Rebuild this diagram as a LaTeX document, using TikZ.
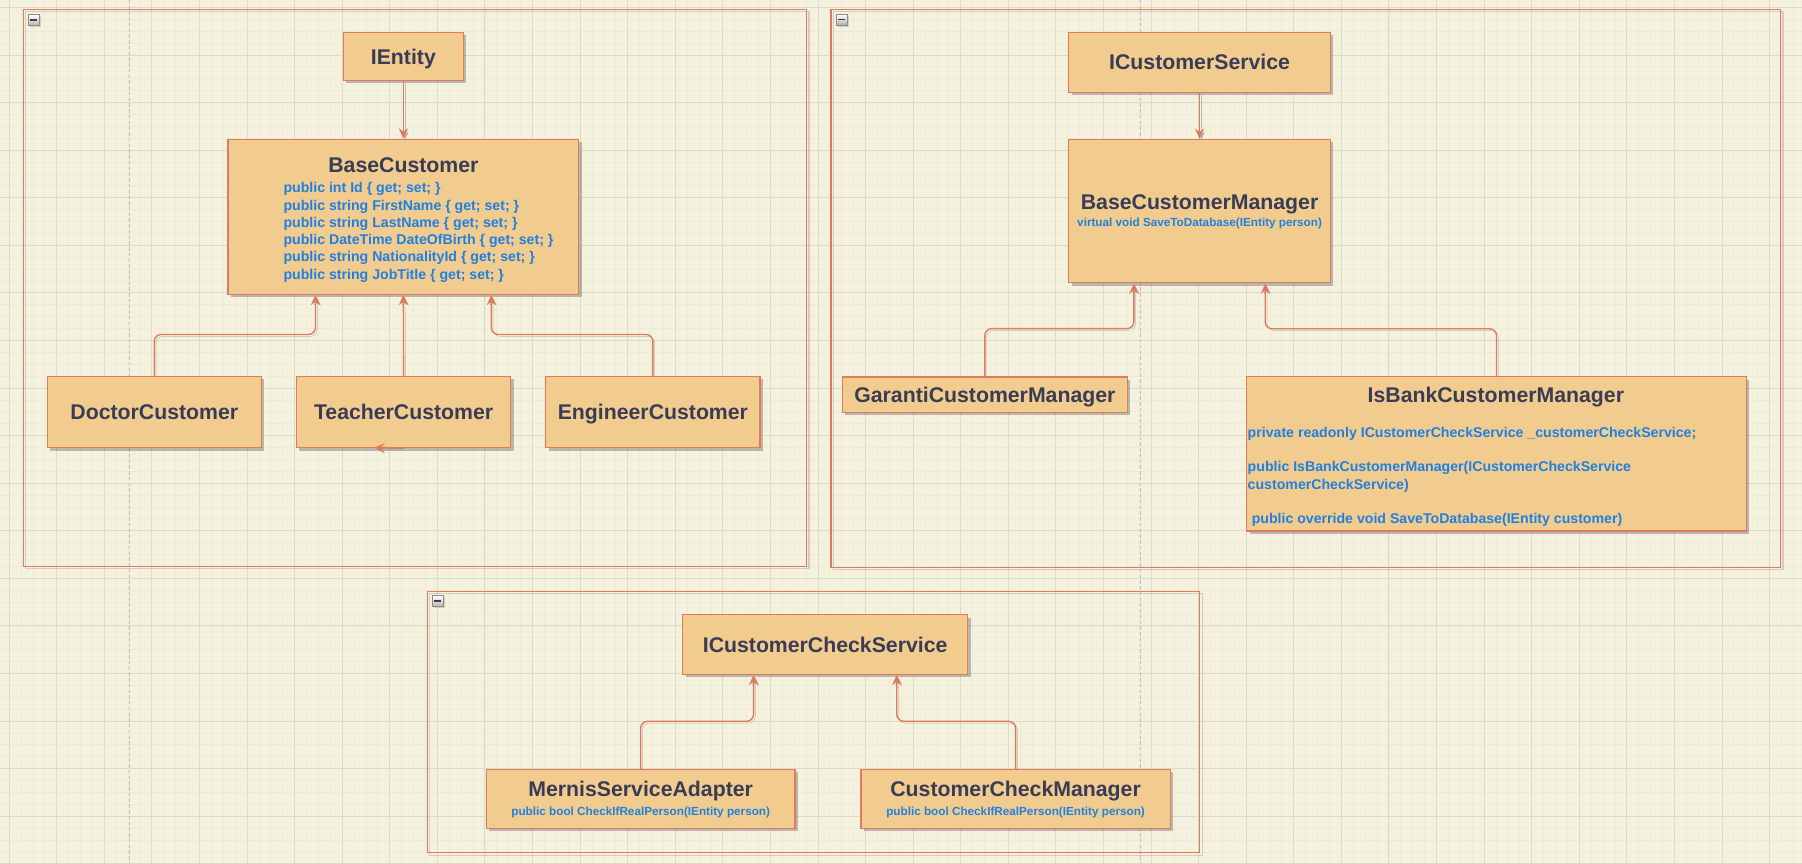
\documentclass[tikz,border=0pt]{standalone}
\usepackage{fontspec}
\setmainfont{Liberation Sans}
\usetikzlibrary{arrows.meta,shadows,calc}

\definecolor{paper}{HTML}{F4F1DE}
\definecolor{boxfill}{HTML}{F2CC8F}
\definecolor{boxline}{HTML}{E07A5F}
\definecolor{titleink}{HTML}{393C56}
\definecolor{memberink}{HTML}{1F80E0}
\definecolor{gridmajor}{HTML}{DEDAC8}
\definecolor{gridminor}{HTML}{EEEAD6}

\tikzset{
  cls/.style={draw=boxline, fill=boxfill, line width=1.1pt, inner sep=0pt,
    drop shadow={shadow xshift=2.5pt, shadow yshift=-2.5pt, opacity=.45, fill=black!55},
    font=\fontsize{18.5}{22}\selectfont\bfseries, text=titleink,
    text height=13.2pt, text depth=0pt},
  ttl/.style={inner sep=0pt, anchor=base, font=\fontsize{18.5}{22}\selectfont\bfseries, text=titleink},
  member/.style={inner sep=0pt, align=left, anchor=north west,
    font=\fontsize{12.3}{15}\selectfont\bfseries, text=memberink},
  method/.style={inner sep=0pt, anchor=base, font=\fontsize{10.2}{12}\selectfont\bfseries, text=memberink},
  conn/.style={draw=boxline, line width=1.2pt, rounded corners=6pt,
    -{Stealth[length=9pt,width=8pt,inset=3pt]},
    preaction={draw=black!50, opacity=.45, transform canvas={shift={(1.6pt,-1.6pt)}}}},
  frame/.style={draw=boxline, line width=1.1pt,
    preaction={draw=boxline!55!black!45, opacity=.55, line width=1pt, transform canvas={shift={(2pt,-2pt)}}}},
  collapse/.style={minimum size=9.5pt, inner sep=0pt, draw=black!45, line width=.5pt,
    top color=white, bottom color=black!30,
    drop shadow={shadow xshift=1.5pt, shadow yshift=-1.5pt, opacity=.3},
    path picture={\draw[black!75, line width=1.5pt] ([xshift=1.8pt]path picture bounding box.west) -- ([xshift=-1.8pt]path picture bounding box.east);}},
  pagebreak/.style={draw=black!25, line width=.9pt, dash pattern=on 3pt off 2pt}
}

\begin{document}
\begin{tikzpicture}[x=1pt,y=-1pt]
\useasboundingbox (0,0) rectangle (1568,751);
% Paper and grid
\fill[paper] (0,0) rectangle (1568,751);
\foreach \i in {0,...,152} \draw[gridminor, line width=.4pt] ({-2.55+10.35*\i},0) -- ({-2.55+10.35*\i},751);
\foreach \i in {0,...,73} \draw[gridminor, line width=.4pt] (0,{-4.05+10.35*\i}) -- (1568,{-4.05+10.35*\i});
\foreach \i in {0,...,37} \draw[gridmajor, line width=.5pt] ({7.8+41.4*\i},0) -- ({7.8+41.4*\i},751);
\foreach \i in {0,...,18} \draw[gridmajor, line width=.5pt] (0,{6.3+41.4*\i}) -- (1568,{6.3+41.4*\i});
\draw[pagebreak] (113,0) -- (113,751);
\draw[pagebreak] (992,0) -- (992,751);

% Containers
\draw[frame] (20.3,8.1) rectangle (702,493);
\draw[frame] (723,8.1) rectangle (1549.5,493.5);
\draw[frame] (371.8,514.4) rectangle (1044,742.1);
\node[collapse] (grp1-btn) at (29.4,17.5) {};
\node[collapse] (grp2-btn) at (732.3,17) {};
\node[collapse] (grp3-btn) at (381,523) {};

% Customer entities
\node[cls, minimum width=104pt, minimum height=42pt] (ientity) at (351,49.1) {IEntity};
\node[cls, minimum width=305pt, minimum height=134.7pt] (base) at (351,188.6) {};
\node[ttl] (base-title) at (351,150.3) {BaseCustomer};
\node[member] (base-props) at (246.5,157.2) {\strut public int Id \{ get; set; \}\\
public string FirstName \{ get; set; \}\\
public string LastName \{ get; set; \}\\
public DateTime DateOfBirth \{ get; set; \}\\
public string NationalityId \{ get; set; \}\\
public string JobTitle \{ get; set; \}};
\node[cls, minimum width=186.5pt, minimum height=62pt] (doctor) at (134.3,358.6) {DoctorCustomer};
\node[cls, minimum width=186.5pt, minimum height=62pt] (teacher) at (351.2,358.6) {TeacherCustomer};
\node[cls, minimum width=186.5pt, minimum height=62pt] (engineer) at (568.1,358.6) {EngineerCustomer};
\coordinate (base-in1) at ($(base.south west)!.5!(base.south)$);
\coordinate (base-in3) at ($(base.south)!.5!(base.south east)$);
\coordinate (teacher-stub) at (325.5,389.6);
\draw[conn] (ientity.south) -- (base.north);
\draw[conn] (doctor.north) -- ++(0,-36) -| (base-in1);
\draw[conn] (teacher.north) -- (base.south);
\draw[conn] (engineer.north) -- ++(0,-36) -| (base-in3);
\draw[conn] (teacher.south) -- (teacher-stub);

% Customer managers
\node[cls, minimum width=227.6pt, minimum height=52.2pt] (icservice) at (1043.8,54.2) {ICustomerService};
\node[cls, minimum width=227.6pt, minimum height=124.7pt] (bcm) at (1043.8,183.7) {};
\node[ttl] (bcm-title) at (1043.8,181.9) {BaseCustomerManager};
\node[method] (bcm-method) at (1043.8,197.5) {virtual void SaveToDatabase(IEntity person)};
\node[cls, minimum width=248pt, minimum height=31pt] (garanti) at (857,343.5) {GarantiCustomerManager};
\node[cls, minimum width=434.7pt, minimum height=134.3pt] (isbank) at (1302.2,395) {};
\node[ttl] (isbank-title) at (1301.6,350.2) {IsBankCustomerManager};
\node[member] (isbank-body) at (1085.5,370) {\strut private readonly ICustomerCheckService \_customerCheckService;\\[15pt]
public IsBankCustomerManager(ICustomerCheckService\\
customerCheckService)\\[15pt]
\hspace*{3.5pt}public override void SaveToDatabase(IEntity customer)};
\coordinate (bcm-in1) at ($(bcm.south west)!.5!(bcm.south)$);
\coordinate (bcm-in3) at ($(bcm.south)!.5!(bcm.south east)$);
\draw[conn] (icservice.south) -- (bcm.north);
\draw[conn] (garanti.north) -- ++(0,-41.5) -| (bcm-in1);
\draw[conn] (isbank.north) -- ++(0,-41.2) -| (bcm-in3);

% Check services
\node[cls, minimum width=248pt, minimum height=51.6pt] (iccs) at (718,560.8) {ICustomerCheckService};
\node[cls, minimum width=268.6pt, minimum height=51.3pt] (mernis) at (557.5,695.3) {};
\node[ttl] (mernis-title) at (557.5,693.4) {MernisServiceAdapter};
\node[method] (mernis-method) at (557.5,709.2) {public bool CheckIfRealPerson(IEntity person)};
\node[cls, minimum width=269pt, minimum height=51.3pt] (ccm) at (883.7,695.3) {};
\node[ttl] (ccm-title) at (883.7,693.4) {CustomerCheckManager};
\node[method] (ccm-method) at (883.7,709.2) {public bool CheckIfRealPerson(IEntity person)};
\coordinate (iccs-in1) at ($(iccs.south west)!.5!(iccs.south)$);
\coordinate (iccs-in3) at ($(iccs.south)!.5!(iccs.south east)$);
\draw[conn] (mernis.north) -- ++(0,-41.5) -| (iccs-in1);
\draw[conn] (ccm.north) -- ++(0,-41.5) -| (iccs-in3);
\end{tikzpicture}
\end{document}
